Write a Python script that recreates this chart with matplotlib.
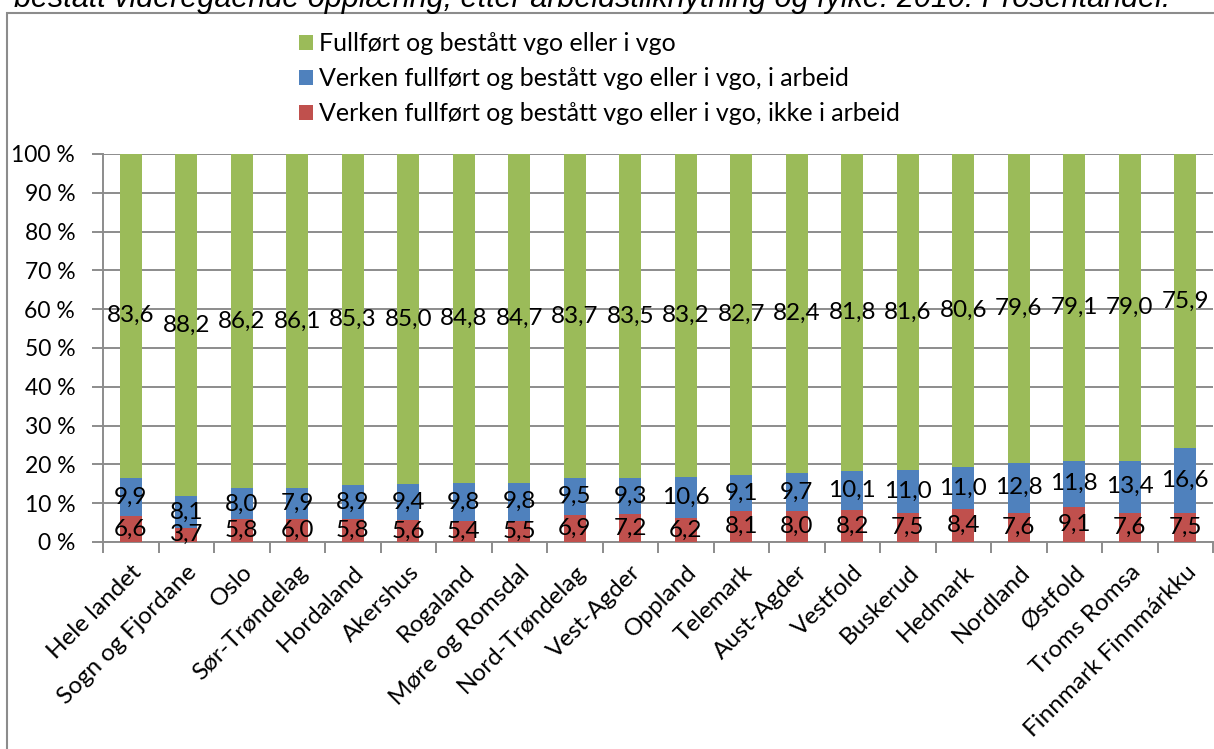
import numpy as np
import matplotlib
matplotlib.use("Agg")
import matplotlib.pyplot as plt
from matplotlib.patches import Rectangle

plt.rcParams["font.family"] = ["Lato", "DejaVu Sans"]

fylker = ["Hele landet", "Sogn og Fjordane", "Oslo", "Sør-Trøndelag", "Hordaland",
          "Akershus", "Rogaland", "Møre og Romsdal", "Nord-Trøndelag", "Vest-Agder",
          "Oppland", "Telemark", "Aust-Agder", "Vestfold", "Buskerud", "Hedmark",
          "Nordland", "Østfold", "Troms Romsa", "Finnmark Finnmárkku"]
ikke_arbeid = [6.6, 3.7, 5.8, 6.0, 5.8, 5.6, 5.4, 5.5, 6.9, 7.2,
               6.2, 8.1, 8.0, 8.2, 7.5, 8.4, 7.6, 9.1, 7.6, 7.5]
i_arbeid = [9.9, 8.1, 8.0, 7.9, 8.9, 9.4, 9.8, 9.8, 9.5, 9.3,
            10.6, 9.1, 9.7, 10.1, 11.0, 11.0, 12.8, 11.8, 13.4, 16.6]
fullfort = [83.6, 88.2, 86.2, 86.1, 85.3, 85.0, 84.8, 84.7, 83.7, 83.5,
            83.2, 82.7, 82.4, 81.8, 81.6, 80.6, 79.6, 79.1, 79.0, 75.9]

serier = [
    ("Verken fullført og bestått vgo eller i vgo, ikke i arbeid", ikke_arbeid, "#C0504D"),
    ("Verken fullført og bestått vgo eller i vgo, i arbeid", i_arbeid, "#4F81BD"),
    ("Fullført og bestått vgo eller i vgo", fullfort, "#9BBB59"),
]

FS = 17.5
W, H = 1214, 749
fig = plt.figure(figsize=(W / 100, H / 100), dpi=100)
ax = fig.add_axes([103 / W, 1 - 542 / H, 1110 / W, 388 / H])

x = np.arange(len(fylker))
bunn = np.zeros(len(fylker))
handles = []
for navn, verdier, farge in serier:
    v = np.array(verdier)
    b = ax.bar(x, v, bottom=bunn, width=0.39, color=farge, label=navn, zorder=3)
    handles.append(b)
    for xi, yi, vi in zip(x, bunn + v / 2, v):
        ax.text(xi, yi, f"{vi:.1f}".replace(".", ","), ha="center", va="center",
                fontsize=FS, color="black", zorder=4)
    bunn += v

ax.set_xlim(-0.5, len(fylker) - 0.5)
ax.set_ylim(0, 100)
ax.set_yticks(np.arange(0, 101, 10))
ax.set_yticklabels([f"{t} %" for t in range(0, 101, 10)], fontsize=16.5)
ax.yaxis.grid(True, color="#8c8c8c", linewidth=1.4, zorder=0)
ax.tick_params(axis="y", length=8, width=1.4, color="#8c8c8c", pad=12)

ax.set_xticks(x)
ax.set_xticklabels(fylker, rotation=45, ha="right", rotation_mode="anchor", fontsize=FS)
ax.set_xticks(np.arange(-0.5, len(fylker)), minor=True)
ax.tick_params(axis="x", which="major", length=0, pad=14)
ax.tick_params(axis="x", which="minor", length=8, width=1.4, color="#8c8c8c")

for side in ["top", "right"]:
    ax.spines[side].set_visible(False)
for side in ["left", "bottom"]:
    ax.spines[side].set_color("#8c8c8c")
    ax.spines[side].set_linewidth(1.4)

fig.legend(handles[::-1], [s[0] for s in serier[::-1]], loc="upper left",
           bbox_to_anchor=(299 / W, 1 - 32 / H), frameon=False, fontsize=18,
           handlelength=0.55, handleheight=0.55, handletextpad=0.25, labelspacing=0.48,
           borderpad=0, borderaxespad=0)

# ramme rundt figuren
fig.patches.append(Rectangle((7 / W, -0.1), 1.2, 1 - 13 / H + 0.1, transform=fig.transFigure,
                             fill=False, edgecolor="#8c8c8c", linewidth=1.5))

fig.text(14 / W, 1 - 7 / H,
         "bestått videregående opplæring, etter arbeidstilknytning og fylke. 2010. Prosentandel.",
         family="Liberation Sans", style="italic", fontsize=22, ha="left", va="baseline")

fig.savefig("out.png", dpi=100)
